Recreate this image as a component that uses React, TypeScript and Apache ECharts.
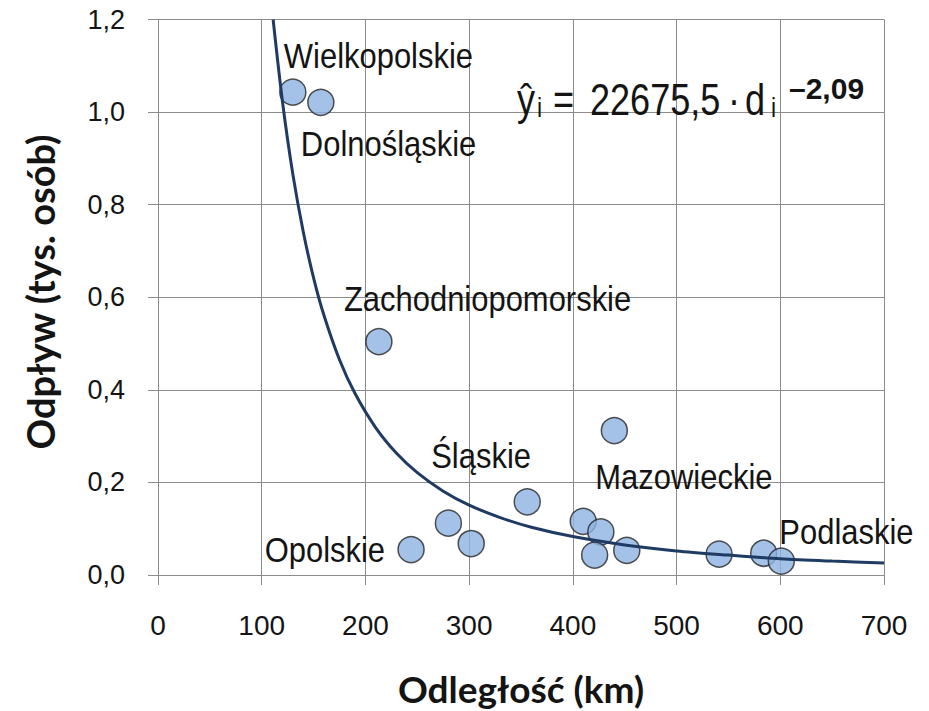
import React, { useEffect, useRef } from "react";
import * as echarts from "echarts";

// Observed points: distance (km) and outflow (thousand persons)
const distanceKm = [130, 157, 213, 244, 280, 302, 356, 410, 427, 421, 440, 452, 541, 584, 601];
const outflowThousands = [1.043, 1.021, 0.504, 0.055, 0.112, 0.068, 0.158, 0.116, 0.093, 0.043, 0.312, 0.053, 0.045, 0.047, 0.03];
const regionLabels = [
  "Wielkopolskie", "Dolnośląskie", "Zachodniopomorskie", "Opolskie", "", "", "Śląskie",
  "", "", "", "Mazowieckie", "", "", "", "Podlaskie",
];

// Trend curve
const trendDistance = [111, 120, 130, 140, 150, 160, 175, 190, 210, 230, 250, 275, 300, 330, 360, 400, 450, 500, 550, 600, 650, 700];
const trendOutflow = [1.2, 1.023, 0.866, 0.742, 0.642, 0.561, 0.465, 0.392, 0.318, 0.263, 0.221, 0.181, 0.151, 0.124, 0.103, 0.083, 0.065, 0.052, 0.043, 0.035, 0.03, 0.026];

const xTitle = "Odległość (km)";
const yTitle = "Odpływ (tys. osób)";

// label placement (offset from point centre), kept separate from data
const labelPlacement: Record<string, { dx: number; dy: number; align: string }> = {
  "Wielkopolskie": { dx: -9, dy: -37, align: "left" },
  "Dolnośląskie": { dx: -20, dy: 41, align: "left" },
  "Zachodniopomorskie": { dx: -35, dy: -43, align: "left" },
  "Opolskie": { dx: -26, dy: 0, align: "right" },
  "Śląskie": { dx: -96, dy: -46, align: "left" },
  "Mazowieckie": { dx: -19, dy: 46, align: "left" },
  "Podlaskie": { dx: -2, dy: -29, align: "left" },
};

const SANS = '"Liberation Sans", Arial, sans-serif';
const BOLD_TITLE = 'Lato, "Open Sans", sans-serif';
const GRID = "#8c8c8c";
const TXT = "#141414";

export default function App() {
  const ref = useRef<HTMLDivElement>(null);
  useEffect(() => {
    if (!ref.current) return;
    const chart = echarts.init(ref.current, null, { renderer: "svg" });

    const text = (t: string, x: number, y: number, size: number, opts: any = {}) => ({
      type: "text",
      x,
      y,
      rotation: opts.rotation || 0,
      scaleX: opts.scaleX || 1,
      z: 100,
      style: {
        text: t,
        fill: TXT,
        fontSize: size,
        fontFamily: opts.family || SANS,
        fontWeight: opts.weight || "normal",
        align: opts.align || "left",
        verticalAlign: "middle",
        textAlign: opts.align || "left",
        textVerticalAlign: "middle",
      },
    });

    chart.setOption({
      animation: false,
      backgroundColor: "#ffffff",
      grid: { left: 158, right: 45, top: 19.5, bottom: 136 },
      xAxis: {
        type: "value",
        min: 0,
        max: 700,
        interval: 100,
        axisLine: { show: true, lineStyle: { color: GRID, width: 1 } },
        axisTick: { show: true, inside: false, length: 10, lineStyle: { color: GRID } },
        splitLine: { show: true, lineStyle: { color: GRID, width: 1 } },
        axisLabel: { color: TXT, fontSize: 28, fontFamily: SANS, margin: 36 },
      },
      yAxis: {
        type: "value",
        min: 0,
        max: 1.2,
        interval: 0.2,
        axisLine: { show: true, lineStyle: { color: GRID, width: 1 } },
        axisTick: { show: true, inside: false, length: 10, lineStyle: { color: GRID } },
        splitLine: { show: true, lineStyle: { color: GRID, width: 1 } },
        axisLabel: {
          color: TXT,
          fontSize: 27,
          fontFamily: SANS,
          margin: 33,
          formatter: (v: number) => v.toFixed(1).replace(".", ","),
        },
      },
      series: [
        {
          type: "scatter",
          data: distanceKm.map((d, i) => ({ value: [d, outflowThousands[i]], name: regionLabels[i] })),
          symbol: "circle",
          symbolSize: 26,
          itemStyle: { color: "#8db3e2", borderColor: "#262626", borderWidth: 1.5 },
          z: 2,
        },
        {
          type: "line",
          data: trendDistance.map((d, i) => [d, trendOutflow[i]]),
          showSymbol: false,
          symbol: "none",
          smooth: 0.3,
          clip: true,
          lineStyle: { color: "#1f3b63", width: 3 },
          z: 3,
        },
      ],
    });

    // region names placed next to their points through the chart's own scales
    const regionTexts: any[] = [];
    distanceKm.forEach((d, i) => {
      const name = regionLabels[i];
      if (!name) return;
      const p = labelPlacement[name];
      const [px, py] = chart.convertToPixel({ gridIndex: 0 }, [d, outflowThousands[i]]) as number[];
      regionTexts.push(text(name, px + p.dx, py + p.dy, 36, { align: p.align, scaleX: 0.86 }));
    });

    chart.setOption({
      graphic: [
        text(xTitle, 521, 688, 37, { family: BOLD_TITLE, weight: "bold", align: "center" }),
        text(yTitle, 40, 292, 38, { family: BOLD_TITLE, weight: "bold", align: "center", rotation: Math.PI / 2 }),
        text("ŷ", 517, 100, 44, { scaleX: 0.82 }),
        text("i", 537, 107, 28, { scaleX: 0.82 }),
        text("=", 553, 100, 44, { scaleX: 0.82 }),
        text("22675,5", 590, 100, 44, { scaleX: 0.82 }),
        text("·", 728, 100, 44, { scaleX: 0.82 }),
        text("d", 745, 100, 44, { scaleX: 0.82 }),
        text("i", 771, 107, 28, { scaleX: 0.82 }),
        text("–2,09", 789, 88, 30, { weight: "bold" }),
        ...regionTexts,
      ],
    });
    return () => chart.dispose();
  }, []);
  return (
    <div
      ref={ref}
      style={{ position: "fixed", left: 0, top: 0, width: 929, height: 711, background: "#fff" }}
    />
  );
}
